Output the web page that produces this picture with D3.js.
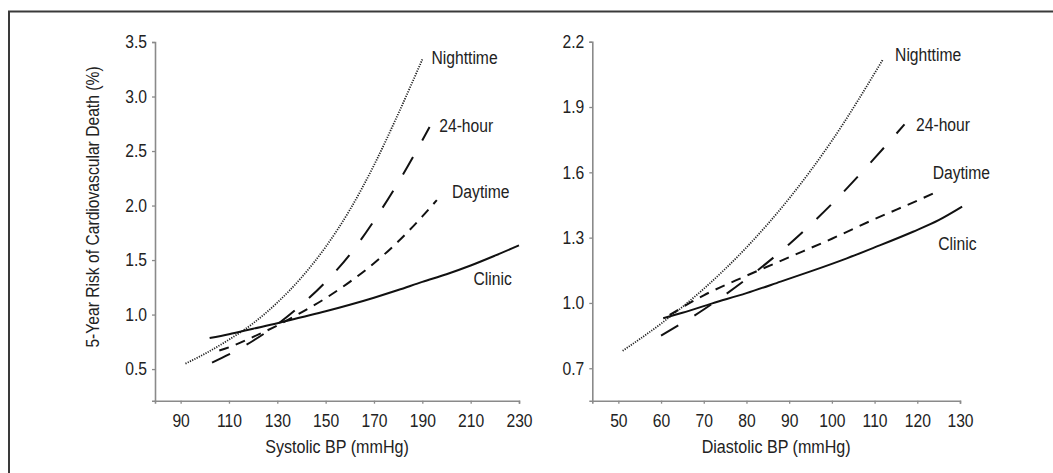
<!DOCTYPE html>
<html>
<head>
<meta charset="utf-8">
<script src="https://cdn.jsdelivr.net/npm/d3@7"></script>
<style>
  html, body { margin: 0; padding: 0; background: #fff; }
  svg { display: block; }
  text { font-family: "Liberation Sans Narrow", "Arial Narrow", "Liberation Sans", Arial, sans-serif; fill: #222; }
</style>
</head>
<body>
<svg id="chart" width="1053" height="473"></svg>
<script>
// ---------- data ----------
const seriesNames = ["Nighttime", "24-hour", "Daytime", "Clinic"];

// Left panel: Systolic BP
const sysTicksX = [90, 110, 130, 150, 170, 190, 210, 230];
const sysTicksY = [0.5, 1.0, 1.5, 2.0, 2.5, 3.0, 3.5];
const sysNightX = [92, 100, 110, 120, 130, 140, 150, 160, 170, 180, 190];
const sysNightY = [0.55, 0.64, 0.77, 0.92, 1.11, 1.34, 1.62, 1.96, 2.37, 2.84, 3.34];
const sys24X = [103, 110, 120, 130, 140, 150, 160, 170, 180, 193];
const sys24Y = [0.56, 0.635, 0.76, 0.91, 1.09, 1.30, 1.55, 1.86, 2.21, 2.72];
const sysDayX = [106, 110, 120, 130, 140, 150, 160, 170, 180, 190, 196];
const sysDayY = [0.67, 0.70, 0.795, 0.90, 1.02, 1.15, 1.30, 1.47, 1.67, 1.90, 2.05];
const sysClinX = [102, 110, 120, 130, 140, 150, 160, 170, 180, 190, 200, 210, 220, 230];
const sysClinY = [0.785, 0.82, 0.87, 0.92, 0.975, 1.03, 1.09, 1.155, 1.225, 1.30, 1.37, 1.45, 1.54, 1.635];

// Right panel: Diastolic BP
const diaTicksX = [50, 60, 70, 80, 90, 100, 110, 120, 130];
const diaTicksY = [0.7, 1.0, 1.3, 1.6, 1.9, 2.2];
const diaNightX = [51, 60, 70, 80, 90, 100, 112];
const diaNightY = [0.78, 0.905, 1.065, 1.255, 1.48, 1.745, 2.12];
const dia24X = [60, 70, 80, 90, 100, 110, 117];
const dia24Y = [0.85, 0.97, 1.11, 1.27, 1.455, 1.665, 1.82];
const diaDayX = [62, 70, 80, 90, 100, 110, 120, 124];
const diaDayY = [0.945, 1.035, 1.125, 1.21, 1.295, 1.385, 1.47, 1.505];
const diaClinX = [60.5, 65, 72, 80, 88, 95, 103.5, 110, 119, 125, 130.5];
const diaClinY = [0.93, 0.955, 0.998, 1.045, 1.098, 1.145, 1.205, 1.255, 1.327, 1.38, 1.442];

const yTitle = "5-Year Risk of Cardiovascular Death (%)";
const sysTitle = "Systolic BP (mmHg)";
const diaTitle = "Diastolic BP (mmHg)";

// ---------- drawing ----------
const SX = 0.87; // horizontal squeeze to mimic the condensed face
const svg = d3.select("#chart");

// outer frame (only top and left edges visible)
svg.append("rect")
  .attr("x", 9).attr("y", 11.5)
  .attr("width", 1100).attr("height", 520)
  .attr("fill", "none")
  .attr("stroke", "#3a3a3a")
  .attr("stroke-width", 2);

const styles = {
  "Nighttime": { dash: "1.2,1.3", width: 1.8, color: "#222" },
  "24-hour":   { dash: "20,19",   width: 2.0, color: "#111" },
  "Daytime":   { dash: "10,7.5",  width: 2.0, color: "#111" },
  "Clinic":    { dash: null,      width: 2.0, color: "#111" }
};

function squeezedText(parent, px, py, str, size, anchor) {
  return parent.append("text")
    .attr("transform", `translate(${px},${py}) scale(${SX},1)`)
    .attr("dy", "0.35em")
    .attr("text-anchor", anchor || "start")
    .style("font-size", size + "px")
    .text(str);
}

function drawPanel(cfg) {
  const x = d3.scaleLinear().domain(cfg.xDomain).range(cfg.xRange);
  const y = d3.scaleLinear().domain(cfg.yDomain).range(cfg.yRange);
  const g = svg.append("g");

  // axes
  const xAxis = d3.axisBottom(x).tickValues(cfg.xTicks).tickSize(3).tickPadding(6)
    .tickFormat(d3.format("d"));
  const yAxis = d3.axisLeft(y).tickValues(cfg.yTicks).tickSize(3).tickPadding(5)
    .tickFormat(d3.format(".1f"));

  const gx = g.append("g").attr("transform", `translate(0,${cfg.yRange[0]})`).call(xAxis);
  const gy = g.append("g").attr("transform", `translate(${cfg.xRange[0]},0)`).call(yAxis);
  [gx, gy].forEach(a => {
    a.select(".domain").attr("stroke", "#8a8a8a").attr("stroke-width", 1.6);
    a.selectAll(".tick line").attr("stroke", "#8a8a8a").attr("stroke-width", 1.3);
    a.selectAll(".tick text").attr("fill", "#2a2a2a")
      .style("font-size", "18px")
      .attr("transform", `scale(${SX},1)`);
  });
  gx.selectAll(".tick text").attr("dy", "0.95em");
  gy.selectAll(".tick text").attr("x", -8 / SX);

  // curves
  const line = d3.line()
    .x(d => x(d[0])).y(d => y(d[1]))
    .curve(d3.curveMonotoneX);

  cfg.series.forEach(s => {
    const st = styles[s.name];
    const pts = s.xs.map((v, i) => [v, s.ys[i]]);
    const p = g.append("path")
      .datum(pts)
      .attr("d", line)
      .attr("fill", "none")
      .attr("stroke", st.color)
      .attr("stroke-width", st.width);
    if (st.dash) p.attr("stroke-dasharray", st.dash);
  });

  // series labels
  cfg.labels.forEach(l => {
    squeezedText(g, x(l.x), y(l.y), l.name, 18, "start");
  });

  // x title
  squeezedText(g, (cfg.xRange[0] + cfg.xRange[1]) / 2, 447, cfg.xTitle, 18.5, "middle");

  return { x, y };
}

drawPanel({
  xDomain: [79.4, 230], xRange: [155, 519],
  yDomain: [0.21, 3.5], yRange: [400.7, 42],
  xTicks: sysTicksX, yTicks: sysTicksY,
  xTitle: sysTitle,
  series: [
    { name: "Nighttime", xs: sysNightX, ys: sysNightY },
    { name: "24-hour", xs: sys24X, ys: sys24Y },
    { name: "Daytime", xs: sysDayX, ys: sysDayY },
    { name: "Clinic", xs: sysClinX, ys: sysClinY }
  ],
  labels: [
    { name: seriesNames[0], x: 193.8, y: 3.36 },
    { name: seriesNames[1], x: 197.0, y: 2.73 },
    { name: seriesNames[2], x: 202.3, y: 2.13 },
    { name: seriesNames[3], x: 211.2, y: 1.33 }
  ]
});

drawPanel({
  xDomain: [43.9, 130], xRange: [592.3, 960],
  yDomain: [0.551, 2.2], yRange: [400.7, 41.7],
  xTicks: diaTicksX, yTicks: diaTicksY,
  xTitle: diaTitle,
  series: [
    { name: "Nighttime", xs: diaNightX, ys: diaNightY },
    { name: "24-hour", xs: dia24X, ys: dia24Y },
    { name: "Daytime", xs: diaDayX, ys: diaDayY },
    { name: "Clinic", xs: diaClinX, ys: diaClinY }
  ],
  labels: [
    { name: seriesNames[0], x: 114.8, y: 2.139 },
    { name: seriesNames[1], x: 119.7, y: 1.821 },
    { name: seriesNames[2], x: 123.6, y: 1.598 },
    { name: seriesNames[3], x: 124.9, y: 1.274 }
  ]
});

// y title (left panel only)
svg.append("text")
  .attr("transform", `translate(93,207) rotate(-90) scale(${SX},1)`)
  .attr("dy", "0.35em")
  .attr("text-anchor", "middle")
  .style("font-size", "18px")
  .text(yTitle);
</script>
</body>
</html>
